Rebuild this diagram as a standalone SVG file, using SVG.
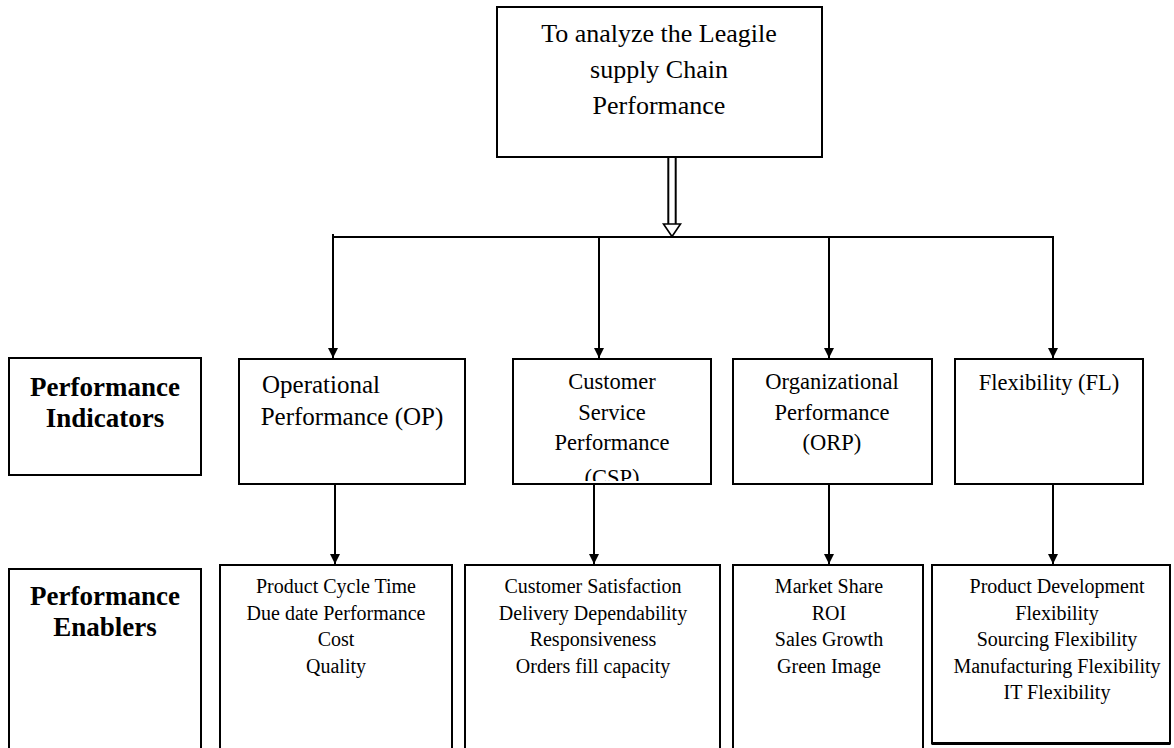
<svg xmlns="http://www.w3.org/2000/svg" width="1174" height="748" viewBox="0 0 1174 748">
<style>
  .box { fill: #ffffff; stroke: #000000; stroke-width: 2; }
  .t { font-family: "Liberation Serif", "Times New Roman", serif; fill: #000000; text-anchor: middle; }
  .top { font-size: 26px; }
  .lbl { font-size: 27px; font-weight: bold; }
  .ind { font-size: 22.5px; }
  .op { font-size: 25px; }
  .en { font-size: 20px; }
  .conn { stroke: #000000; stroke-width: 2; fill: none; }
</style>
<defs>
  <marker id="arr" viewBox="0 0 10 10" refX="10" refY="5" markerWidth="10" markerHeight="10" markerUnits="userSpaceOnUse" orient="auto">
    <path d="M0,0 L10,5 L0,10 z" fill="#000000"/>
  </marker>
  <clipPath id="cspclip"><rect x="514" y="360" width="196" height="121"/></clipPath>
</defs>
<rect width="1174" height="748" fill="#ffffff"/>

<g id="connectors">
  <line class="conn" x1="668.3" y1="157" x2="668.3" y2="224"/>
  <line class="conn" x1="675.7" y1="157" x2="675.7" y2="224" />
  <path d="M663.5,224 L680.5,224 L672,236.5 z" fill="#ffffff" stroke="#000000" stroke-width="1.6"/>
  <line class="conn" x1="332" y1="237" x2="1054" y2="237"/>
  <line class="conn" x1="333" y1="234" x2="333" y2="358" marker-end="url(#arr)"/>
  <line class="conn" x1="599" y1="237" x2="599" y2="358" marker-end="url(#arr)"/>
  <line class="conn" x1="829" y1="237" x2="829" y2="358" marker-end="url(#arr)"/>
  <line class="conn" x1="1053" y1="237" x2="1053" y2="358" marker-end="url(#arr)"/>
  <line class="conn" x1="335" y1="484" x2="335" y2="564" marker-end="url(#arr)"/>
  <line class="conn" x1="594" y1="484" x2="594" y2="564" marker-end="url(#arr)"/>
  <line class="conn" x1="829" y1="484" x2="829" y2="564" marker-end="url(#arr)"/>
  <line class="conn" x1="1053" y1="484" x2="1053" y2="564" marker-end="url(#arr)"/>
</g>

<g id="goal">
  <rect class="box" x="497" y="7" width="325" height="150"/>
  <text class="t top" x="659" y="42">To analyze the Leagile</text>
  <text class="t top" x="659" y="78">supply Chain</text>
  <text class="t top" x="659" y="114">Performance</text>
</g>

<g id="label-indicators">
  <rect class="box" x="9" y="358" width="192" height="117"/>
  <text class="t lbl" x="105" y="396">Performance</text>
  <text class="t lbl" x="105" y="427">Indicators</text>
</g>

<g id="ind-op">
  <rect class="box" x="239" y="359" width="226" height="125"/>
  <text class="t op" x="262" y="393" style="text-anchor:start">Operational</text>
  <text class="t op" x="352" y="425">Performance (OP)</text>
</g>

<g id="ind-csp">
  <rect class="box" x="513" y="359" width="198" height="125"/>
  <g clip-path="url(#cspclip)">
    <text class="t ind" x="612" y="389">Customer</text>
    <text class="t ind" x="612" y="420">Service</text>
    <text class="t ind" x="612" y="450">Performance</text>
    <text class="t ind" x="612" y="485">(CSP)</text>
  </g>
</g>

<g id="ind-orp">
  <rect class="box" x="733" y="359" width="199" height="125"/>
  <text class="t ind" x="832" y="389">Organizational</text>
  <text class="t ind" x="832" y="420">Performance</text>
  <text class="t ind" x="832" y="450">(ORP)</text>
</g>

<g id="ind-fl">
  <rect class="box" x="955" y="359" width="188" height="125"/>
  <text class="t ind" x="1049" y="390">Flexibility (FL)</text>
</g>

<g id="label-enablers">
  <rect class="box" x="9" y="569" width="192" height="200"/>
  <text class="t lbl" x="105" y="605">Performance</text>
  <text class="t lbl" x="105" y="636">Enablers</text>
</g>

<g id="en-op">
  <rect class="box" x="220" y="565" width="232" height="200"/>
  <text class="t en" x="336" y="593">Product Cycle Time</text>
  <text class="t en" x="336" y="619.5">Due date Performance</text>
  <text class="t en" x="336" y="646">Cost</text>
  <text class="t en" x="336" y="672.5">Quality</text>
</g>

<g id="en-csp">
  <rect class="box" x="465" y="565" width="255" height="200"/>
  <text class="t en" x="593" y="593">Customer Satisfaction</text>
  <text class="t en" x="593" y="619.5">Delivery Dependability</text>
  <text class="t en" x="593" y="646">Responsiveness</text>
  <text class="t en" x="593" y="672.5">Orders fill capacity</text>
</g>

<g id="en-orp">
  <rect class="box" x="733" y="565" width="190" height="200"/>
  <text class="t en" x="829" y="593">Market Share</text>
  <text class="t en" x="829" y="619.5">ROI</text>
  <text class="t en" x="829" y="646">Sales Growth</text>
  <text class="t en" x="829" y="672.5">Green Image</text>
</g>

<g id="en-fl">
  <rect class="box" x="932" y="565" width="238" height="178.5"/>
  <line x1="932" y1="743.5" x2="1170" y2="743.5" stroke="#000000" stroke-width="3"/>
  <text class="t en" x="1057" y="593">Product Development</text>
  <text class="t en" x="1057" y="619.5">Flexibility</text>
  <text class="t en" x="1057" y="646">Sourcing Flexibility</text>
  <text class="t en" x="1057" y="672.5">Manufacturing Flexibility</text>
  <text class="t en" x="1057" y="699">IT Flexibility</text>
</g>
</svg>
